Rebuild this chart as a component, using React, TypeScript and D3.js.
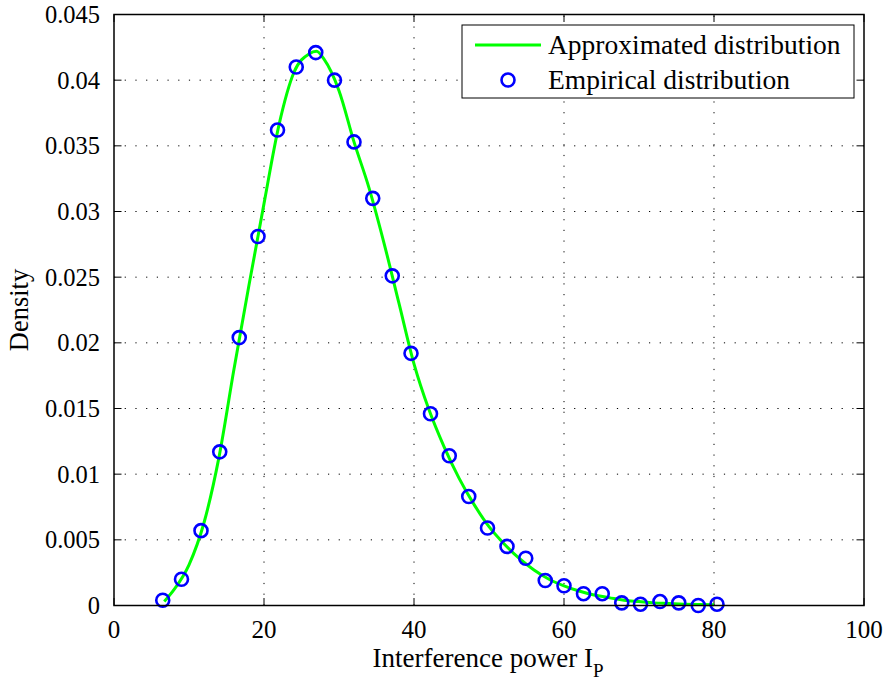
import React from "react";
import * as d3 from "d3";

const xTicks = [0, 20, 40, 60, 80, 100];
const yTicks = [0, 0.005, 0.01, 0.015, 0.02, 0.025, 0.03, 0.035, 0.04, 0.045];
const yTickLabels = ["0", "0.005", "0.01", "0.015", "0.02", "0.025", "0.03", "0.035", "0.04", "0.045"];

// Empirical distribution (circles)
const empX = [6.5, 9.0, 11.6, 14.1, 16.7, 19.2, 21.8, 24.3, 26.9, 29.4, 32.0, 34.5, 37.1, 39.6, 42.2, 44.7, 47.3, 49.8, 52.4, 54.9, 57.5, 60.0, 62.6, 65.1, 67.7, 70.2, 72.8, 75.3, 77.9, 80.4];
const empY = [0.0004, 0.0020, 0.0057, 0.0117, 0.0204, 0.0281, 0.0362, 0.0410, 0.0421, 0.0400, 0.0353, 0.0310, 0.0251, 0.0192, 0.0146, 0.0114, 0.0083, 0.0059, 0.0045, 0.0036, 0.0019, 0.0015, 0.0009, 0.0009, 0.0002, 0.0001, 0.0003, 0.0002, 0.0000, 0.0001];

// Approximated distribution (green curve)
const curveX = [6.7, 8, 10, 12, 14, 16, 18, 20, 22, 24, 26, 27, 28, 30, 32, 34, 36, 38, 40, 42, 44, 46, 48, 50, 52, 54, 56, 58, 60, 62, 64, 66, 68, 70, 72, 74, 76, 78, 80];
const curveY = [0.0003, 0.0012, 0.0031, 0.0063, 0.0113, 0.0180, 0.0244, 0.0306, 0.0366, 0.0406, 0.0420, 0.0422, 0.0416, 0.0392, 0.0353, 0.0318, 0.0276, 0.0230, 0.0184, 0.0149, 0.0121, 0.0097, 0.0077, 0.0060, 0.0047, 0.0036, 0.0027, 0.0020, 0.0015, 0.0011, 0.0008, 0.0006, 0.0004, 0.0003, 0.0002, 0.00015, 0.0001, 0.00007, 0.00005];

const legendLabels = ["Approximated distribution", "Empirical distribution"];

const W = 889, H = 682;
const L = 114, R = 864, T = 14.5, B = 605.5;
const FONT = "'Liberation Serif', 'Times New Roman', serif";

export default function App() {
  const x = d3.scaleLinear().domain([0, 100]).range([L, R]);
  const y = d3.scaleLinear().domain([0, 0.045]).range([B, T]);
  const line = d3
    .line<number>()
    .x((_, i) => x(curveX[i]))
    .y((d) => y(d))
    .curve(d3.curveMonotoneX);
  const tick = 7.5;
  return (
    <svg width={W} height={H} style={{ position: "absolute", left: 0, top: 0, background: "#fff" }}>
      <rect x={0} y={0} width={W} height={H} fill="#fff" />
      {/* grid */}
      {xTicks.slice(1, -1).map((t) => (
        <line key={"gx" + t} x1={x(t)} x2={x(t)} y1={B} y2={T} stroke="#000" strokeWidth={1} strokeDasharray="1.2 9.5" />
      ))}
      {yTicks.slice(1, -1).map((t) => (
        <line key={"gy" + t} x1={L} x2={R} y1={y(t)} y2={y(t)} stroke="#000" strokeWidth={1} strokeDasharray="1.2 9.5" />
      ))}
      {/* ticks */}
      {xTicks.map((t) => (
        <g key={"tx" + t}>
          <line x1={x(t)} x2={x(t)} y1={B} y2={B - tick} stroke="#000" strokeWidth={1} />
          <line x1={x(t)} x2={x(t)} y1={T} y2={T + tick} stroke="#000" strokeWidth={1} />
          <text x={x(t)} y={638} textAnchor="middle" fontFamily={FONT} fontSize={25}>{t}</text>
        </g>
      ))}
      {yTicks.map((t, i) => (
        <g key={"ty" + t}>
          <line x1={L} x2={L + tick} y1={y(t)} y2={y(t)} stroke="#000" strokeWidth={1} />
          <line x1={R} x2={R - tick} y1={y(t)} y2={y(t)} stroke="#000" strokeWidth={1} />
          <text x={100} y={y(t) + 8.5} textAnchor="end" fontFamily={FONT} fontSize={24.5}>{yTickLabels[i]}</text>
        </g>
      ))}
      {/* curve */}
      <path d={line(curveY) || ""} fill="none" stroke="#00ff00" strokeWidth={3} />
      {/* empirical */}
      {empX.map((v, i) => (
        <circle key={"p" + i} cx={x(v)} cy={y(empY[i])} r={6.5} fill="none" stroke="#0000ff" strokeWidth={2.6} />
      ))}
      {/* axes box */}
      <rect x={L} y={T} width={R - L} height={B - T} fill="none" stroke="#000" strokeWidth={1.5} />
      {/* labels */}
      <text x={488} y={667} textAnchor="middle" fontFamily={FONT} fontSize={27}>
        Interference power I<tspan fontSize={19} dy={10}>P</tspan>
      </text>
      <text transform={`translate(28, ${(T + B) / 2}) rotate(-90)`} textAnchor="middle" fontFamily={FONT} fontSize={26.5}>
        Density
      </text>
      {/* legend */}
      <rect x={462} y={25} width={392} height={73} fill="#fff" stroke="#000" strokeWidth={1} />
      <line x1={475} x2={541} y1={45} y2={45} stroke="#00ff00" strokeWidth={3} />
      <text x={548} y={54} fontFamily={FONT} fontSize={27.5}>{legendLabels[0]}</text>
      <circle cx={508} cy={80} r={6.5} fill="none" stroke="#0000ff" strokeWidth={2.6} />
      <text x={548} y={89} fontFamily={FONT} fontSize={27.5}>{legendLabels[1]}</text>
    </svg>
  );
}
